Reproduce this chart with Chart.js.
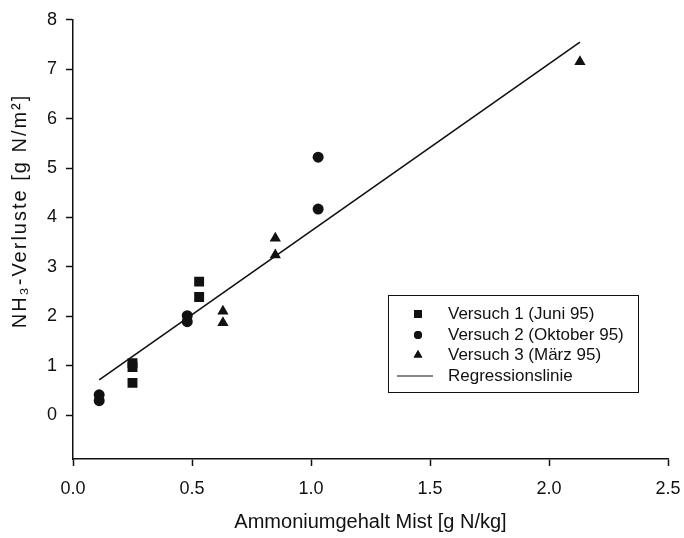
<!DOCTYPE html>
<html>
<head>
<meta charset="utf-8">
<script src="https://cdn.jsdelivr.net/npm/chart.js@4/dist/chart.umd.min.js"></script>
<style>
  html, body { margin: 0; padding: 0; background: #fff; }
  #wrap { width: 684px; height: 538px; }
</style>
</head>
<body>
<div id="wrap"><canvas id="nh3"></canvas></div>
<script>
//*Data
const seriesNames = ['Versuch 1 (Juni 95)', 'Versuch 2 (Oktober 95)', 'Versuch 3 (März 95)', 'Regressionslinie']

// Versuch 1 (squares)
const v1X = [0.25, 0.25, 0.25, 0.53, 0.53]
const v1Y = [1.05, 0.97, 0.65, 2.70, 2.39]
// Versuch 2 (circles)
const v2X = [0.11, 0.11, 0.48, 0.48, 1.03, 1.03]
const v2Y = [0.41, 0.29, 2.01, 1.89, 5.22, 4.17]
// Versuch 3 (triangles)
const v3X = [0.63, 0.63, 0.85, 0.85, 2.13]
const v3Y = [2.10, 1.87, 3.58, 3.24, 7.15]
// Regression line end points
const regX = [0.11, 2.13]
const regY = [0.71, 7.55]

const xTicks = [0, 0.5, 1.0, 1.5, 2.0, 2.5]
const yTicks = [0, 1, 2, 3, 4, 5, 6, 7, 8]

const xTitle = 'Ammoniumgehalt Mist [g N/kg]'
const yTitle = 'NH\u2083-Verluste [g N/m\u00B2]'

//*helpers
const toPoints = (xs, ys) => xs.map((x, i) => ({ x: x, y: ys[i] }))
const ink = '#111'
const font = '"Liberation Sans", Arial, Helvetica, sans-serif'

//*Y title drawn by hand (the original sits above the axis middle)
const yTitlePlugin = {
  id: 'yTitlePlugin',
  afterDraw(chart) {
    const ctx = chart.ctx
    ctx.save()
    ctx.translate(20, 211)
    ctx.rotate(-Math.PI / 2)
    ctx.font = '20px ' + font
    if ('letterSpacing' in ctx) ctx.letterSpacing = '2px'
    ctx.fillStyle = ink
    ctx.textAlign = 'center'
    ctx.textBaseline = 'middle'
    ctx.fillText(yTitle, 0, 0)
    ctx.restore()
  }
}

//*Legend drawn inside the plot (boxed, like the original)
const boxLegend = {
  id: 'boxLegend',
  afterDraw(chart) {
    const ctx = chart.ctx
    const x0 = 388, y0 = 295, w = 250, h = 97
    ctx.save()
    ctx.fillStyle = '#fff'
    ctx.fillRect(x0, y0, w, h)
    ctx.strokeStyle = ink
    ctx.lineWidth = 1
    ctx.strokeRect(x0 + 0.5, y0 + 0.5, w, h)
    ctx.font = '17px ' + font
    ctx.textBaseline = 'middle'
    ctx.fillStyle = ink
    const rowY = [314, 335, 355, 376]
    chart.data.datasets.forEach((ds, i) => {
      const cy = rowY[i]
      if (ds.type === 'line') {
        ctx.beginPath()
        ctx.moveTo(x0 + 9, cy)
        ctx.lineTo(x0 + 45, cy)
        ctx.lineWidth = 1.2
        ctx.stroke()
      } else {
        Chart.helpers.drawPoint(ctx, {
          pointStyle: ds.pointStyle,
          radius: ds.pointRadius - 1.5,
          borderWidth: 0
        }, x0 + 30, cy)
        ctx.fill()
      }
      ctx.fillText(ds.label, x0 + 60, cy)
    })
    ctx.restore()
  }
}

const ctx = document.getElementById('nh3').getContext('2d')
const chart = new Chart(ctx, {
  type: 'scatter',
  data: {
    datasets: [
      {
        label: seriesNames[0],
        data: toPoints(v1X, v1Y),
        pointStyle: 'rect',
        pointRadius: 7,
        backgroundColor: ink,
        borderColor: ink,
        borderWidth: 0
      },
      {
        label: seriesNames[1],
        data: toPoints(v2X, v2Y),
        pointStyle: 'circle',
        pointRadius: 5.5,
        backgroundColor: ink,
        borderColor: ink,
        borderWidth: 0
      },
      {
        label: seriesNames[2],
        data: toPoints(v3X, v3Y),
        pointStyle: 'triangle',
        pointRadius: 6.5,
        backgroundColor: ink,
        borderColor: ink,
        borderWidth: 0
      },
      {
        type: 'line',
        label: seriesNames[3],
        data: toPoints(regX, regY),
        borderColor: ink,
        borderWidth: 1.6,
        pointRadius: 0,
        fill: false
      }
    ]
  },
  options: {
    responsive: true,
    maintainAspectRatio: false,
    animation: false,
    layout: { padding: { top: 19, right: 16, left: 0, bottom: 0 } },
    plugins: {
      legend: { display: false },
      tooltip: { enabled: false }
    },
    scales: {
      x: {
        type: 'linear',
        min: 0,
        max: 2.5,
        afterBuildTicks: (scale) => { scale.ticks = xTicks.map(v => ({ value: v })) },
        afterFit: (scale) => {
          scale.height = 79
          scale.paddingLeft = 0
          scale.paddingRight = 0
        },
        ticks: {
          color: ink,
          font: { family: font, size: 18 },
          padding: 12,
          callback: (v) => v.toFixed(1)
        },
        grid: { drawOnChartArea: false, drawTicks: true, tickLength: 7, tickColor: ink, tickWidth: 1.5 },
        border: { display: true, color: ink, width: 1.5 },
        title: {
          display: true,
          text: xTitle,
          color: ink,
          font: { family: font, size: 20 },
          padding: { top: 4, bottom: 4 }
        }
      },
      y: {
        type: 'linear',
        min: -0.89,
        max: 8,
        afterBuildTicks: (scale) => { scale.ticks = yTicks.map(v => ({ value: v })) },
        afterFit: (scale) => { scale.width = 73 },
        ticks: {
          color: ink,
          font: { family: font, size: 18 },
          padding: 9
        },
        grid: { drawOnChartArea: false, drawTicks: true, tickLength: 7, tickColor: ink, tickWidth: 1.5 },
        border: { display: true, color: ink, width: 1.5 },
        title: { display: false }
      }
    }
  },
  plugins: [yTitlePlugin, boxLegend]
})
</script>
</body>
</html>
